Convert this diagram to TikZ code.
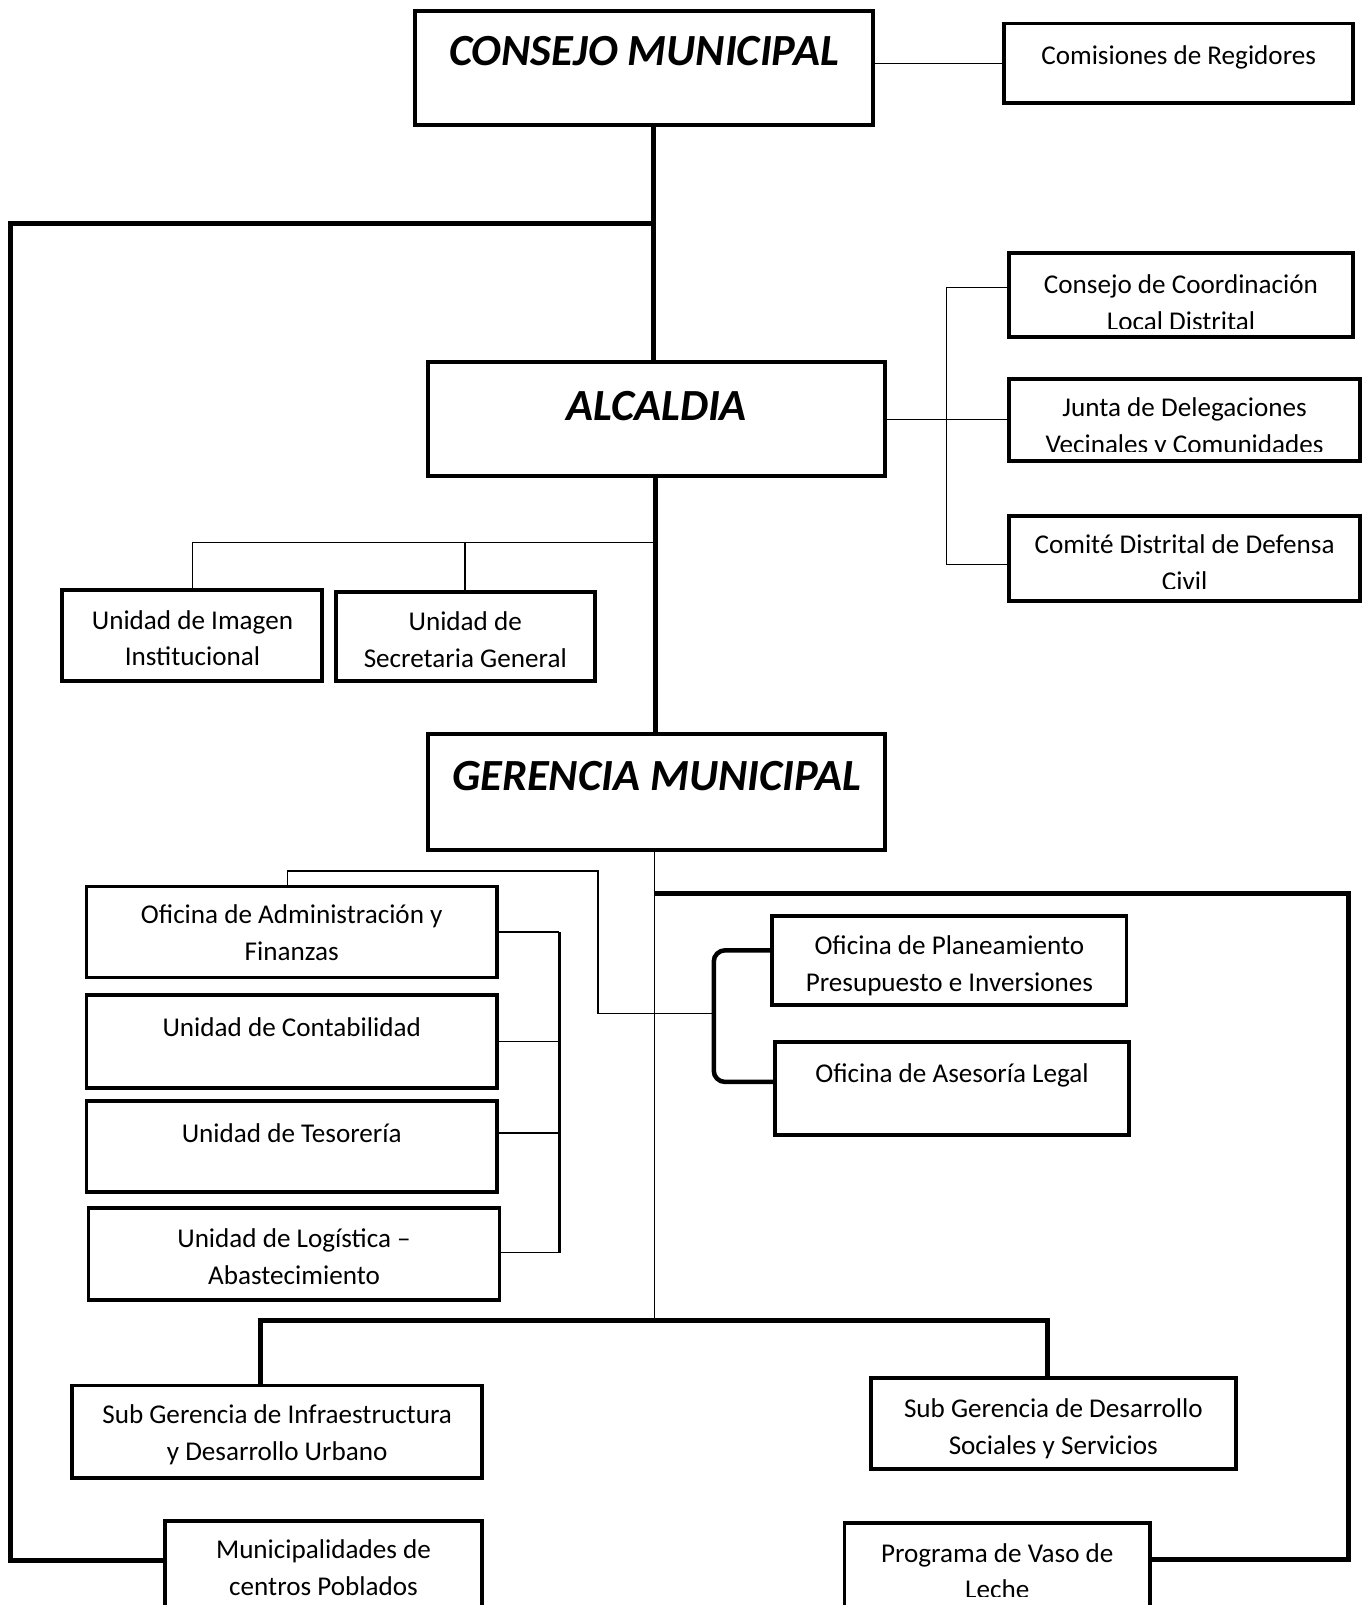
\documentclass[tikz,border=0pt]{standalone}
\usepackage{fontspec}
\setmainfont{Carlito}
\usetikzlibrary{calc}
\newcommand\twoln[2]{\begin{tabular}[t]{@{}c@{}}#1\\#2\end{tabular}}
\newcommand\bx[5]{\node[box, minimum width={#4-#2}, minimum height={#5-#3}] (#1) at ({(#2+#4)/2},{(#3+#5)/2}) {};}
\tikzset{
  box/.style={draw, line width=3.8pt, inner sep=0pt, outer sep=0pt},
  lnthin/.style={line width=1.5pt},
  lnthick/.style={line width=5pt, line join=miter},
  lnmid/.style={line width=3.2pt},
  txt/.style={font=\fontsize{26.5}{36}\selectfont, inner sep=0pt, anchor=base},
  head/.style={font=\fontsize{43.5}{50}\selectfont\bfseries\itshape, inner sep=0pt, anchor=base},
}
\begin{document}
\begin{tikzpicture}[x=1pt,y=-1pt]
\useasboundingbox (0,0) rectangle (1331,1568);
\clip (0,0) rectangle (1331,1568);
\fill[white] (0,0) rectangle (1331,1568);

% ---------- boxes ----------
\bx{cm}{405.5}{11}{853}{122.5}
\bx{com}{981}{23}{1322}{101}
\bx{alc}{418.5}{353.5}{864.5}{465}
\bx{ccl}{985.5}{247.5}{1322}{329.5}
\bx{jdv}{985.5}{370}{1329}{450}
\bx{cdc}{985.5}{504}{1329}{587}
\bx{uii}{61}{576}{315}{665}
\bx{usg}{328}{578}{581}{665}
\bx{gm}{418.5}{717.5}{864.5}{830}
\bx{oaf}{84.5}{866}{485.5}{955}
\bx{uc}{84.5}{972}{485.5}{1062.5}
\bx{ut}{84.5}{1075.5}{485.5}{1164.5}
\bx{ul}{86.5}{1180}{488}{1270}
\bx{opp}{754.5}{895}{1100.5}{982}
\bx{oal}{757}{1018}{1103}{1108.5}
\bx{sgi}{70.5}{1353.5}{471}{1443.5}
\bx{sgd}{850.5}{1346.5}{1207.5}{1435}
\bx{mcp}{161}{1485.5}{471}{1572}
\bx{pvl}{825}{1488}{1123.5}{1572}

% ---------- texts ----------
\node[head] (cm-t) at (cm.center |- 0,64) {CONSEJO MUNICIPAL};
\node[txt] (com-t) at (com.center |- 0,63) {Comisiones de Regidores};
\node[head] (alc-t) at (alc.center |- 0,411) {ALCALDIA};
\begin{scope}
  \clip (ccl.north west) rectangle ($(ccl.south east)+(0,-9)$);
  \node[txt] (ccl-t) at (ccl.center |- 0,286.5) {\twoln{Consejo de Coordinación}{Local Distrital}};
\end{scope}
\begin{scope}
  \clip (jdv.north west) rectangle ($(jdv.south east)+(0,-9)$);
  \node[txt] (jdv-t) at (jdv.center |- 0,407) {\twoln{Junta de Delegaciones}{Vecinales y Comunidades}};
\end{scope}
\begin{scope}
  \clip (cdc.north west) rectangle ($(cdc.south east)+(0,-12)$);
  \node[txt] (cdc-t) at (cdc.center |- 0,541) {\twoln{Comité Distrital de Defensa}{Civil}};
\end{scope}
\node[txt] (uii-t) at (uii.center |- 0,614.5) {\twoln{Unidad de Imagen}{Institucional}};
\node[txt] (usg-t) at (usg.center |- 0,616) {\twoln{Unidad de}{Secretaria General}};
\node[head] (gm-t) at (gm.center |- 0,772) {GERENCIA MUNICIPAL};
\node[txt] (oaf-t) at (oaf.center |- 0,902.5) {\twoln{Oficina de Administración y}{Finanzas}};
\node[txt] (uc-t) at (uc.center |- 0,1013) {Unidad de Contabilidad};
\node[txt] (ut-t) at (ut.center |- 0,1116) {Unidad de Tesorería};
\node[txt] (ul-t) at (ul.center |- 0,1218.5) {\twoln{Unidad de Logística –}{Abastecimiento}};
\node[txt] (opp-t) at (opp.center |- 0,932.5) {\twoln{Oficina de Planeamiento}{Presupuesto e Inversiones}};
\node[txt] (oal-t) at (oal.center |- 0,1058) {Oficina de Asesoría Legal};
\node[txt] (sgi-t) at (sgi.center |- 0,1391) {\twoln{Sub Gerencia de Infraestructura}{y Desarrollo Urbano}};
\node[txt] (sgd-t) at (sgd.center |- 0,1384.5) {\twoln{Sub Gerencia de Desarrollo}{Sociales y Servicios}};
\begin{scope}
  \clip (mcp.north west) rectangle ($(mcp.south east)+(0,-10)$);
  \node[txt] (mcp-t) at (mcp.center |- 0,1522.5) {\twoln{Municipalidades de}{centros Poblados}};
\end{scope}
\begin{scope}
  \clip (pvl.north west) rectangle ($(pvl.south east)+(0,-12)$);
  \node[txt] (pvl-t) at (pvl.center |- 0,1526) {\twoln{Programa de Vaso de}{Leche}};
\end{scope}

% ---------- junction coordinates ----------
\coordinate (j1) at (638,218.5);
\coordinate (tl) at (10,218.5);
\coordinate (lb) at (10,1524.5);
\coordinate (j2) at (640,530);
\coordinate (rtop) at (924.5,281);
\coordinate (rbot) at (924.5,551.5);
\coordinate (gv) at (639.4,1290);
\coordinate (ad1) at (281,850.8);
\coordinate (ad2) at (584.2,850.8);
\coordinate (ad3) at (584.2,990.3);
\coordinate (pb1) at (697.3,928.4);
\coordinate (pb2) at (697.3,1057);
\coordinate (pb3) at (697.3,990.3);
\coordinate (ab1) at (546.5,910.5);
\coordinate (ab2) at (546.5,1017.3);
\coordinate (ab3) at (546.5,1107);
\coordinate (ab4) at (546.5,1223.8);
\coordinate (rt1) at (639.4,873);
\coordinate (rt2) at (1317,873);
\coordinate (rt3) at (1317,1523.5);
\coordinate (bl) at (254.7,1290);
\coordinate (br) at (1023,1290);

% ---------- connectors ----------
\draw[lnthin] (cm.east |- com.west) -- (com.west);
\draw[lnthick] (cm.south -| j1) -- (alc.north -| j1);
\draw[lnthick] (j1) -- (tl) -- (lb) -- (lb -| mcp.west);
\draw[lnthick] (alc.south -| j2) -- (gm.north -| j2);
\draw[lnthin] (j2) -- (j2 -| uii.north) -- (uii.north);
\draw[lnthin] (j2 -| usg.north) -- (usg.north);
\draw[lnthin] (alc.east |- jdv.west) -- (jdv.west);
\draw[lnthin] (rtop -| ccl.west) -- (rtop) -- (rbot) -- (rbot -| cdc.west);
\draw[lnthin] (gm.south -| gv) -- (gv);
\draw[lnthin] (oaf.north -| ad1) -- (ad1) -- (ad2) -- (ad3) -- (pb3);
\draw[line width=4.4pt, rounded corners=11pt] (pb1 -| opp.west) -- (pb1) -- (pb2) -- (pb2 -| oal.west);
\draw[lnmid] (ab1) -- (ab4);
\draw[lnthin] (ab1 -| oaf.east) -- (ab1);
\draw[lnthin] (ab2 -| uc.east) -- (ab2);
\draw[lnthin] (ab3 -| ut.east) -- (ab3);
\draw[lnthin] (ab4 -| ul.east) -- (ab4);
\draw[lnthick] (rt1) -- (rt2) -- (rt3) -- (rt3 -| pvl.east);
\draw[lnthick] (sgi.north -| bl) -- (bl) -- (br) -- (sgd.north -| br);
\end{tikzpicture}
\end{document}
